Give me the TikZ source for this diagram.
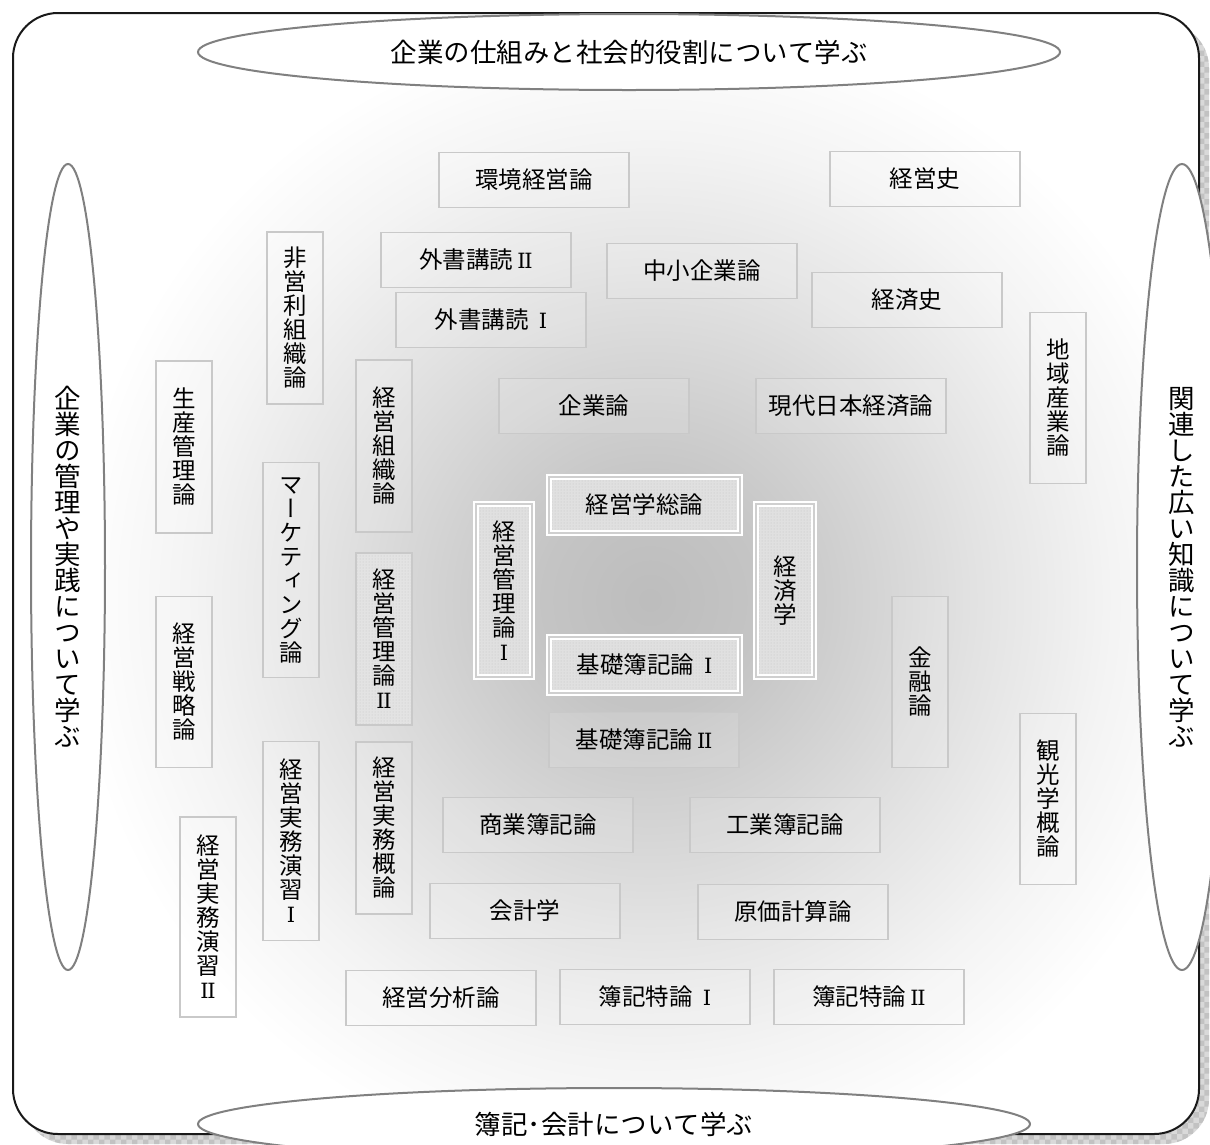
\documentclass[tikz,border=0pt]{standalone}
\usepackage{fontspec}
\setmainfont{Noto Sans CJK JP}
\newfontfamily\vfont[RawFeature=+vert]{Noto Sans CJK JP}
\newfontfamily\rnfont{DejaVu Serif}
\newcommand\rnI{{\rnfont\fontsize{21}{24}\selectfont I}}
\newcommand\rnII{{\rnfont\fontsize{21}{24}\selectfont I\kern-1.5pt I}}
\usetikzlibrary{shapes.geometric,patterns}
\pgfdeclareradialshading{bgshade}{\pgfpoint{0bp}{0bp}}{color(0bp)=(gray!52); color(4.2bp)=(gray!46); color(8.5bp)=(gray!34); color(12.7bp)=(gray!22); color(17.7bp)=(gray!9); color(22.3bp)=(white); color(50bp)=(white)}
\begin{document}
\begin{tikzpicture}[x=1pt,y=-1pt,
  hbox/.style={draw=gray!42, line width=1.5pt, fill=white, fill opacity=0.12, text opacity=1,
    minimum width=190pt, minimum height=55pt, inner sep=0pt, font=\fontsize{23.5}{24}\selectfont},
  vbox/.style={draw=gray!42, line width=1.5pt, fill=white, fill opacity=0.12, text opacity=1,
    minimum width=56pt, minimum height=#1, inner sep=0pt, align=center,
    font=\vfont\fontsize{23.5}{24}\selectfont},
  dotbox/.style={vbox=#1, fill opacity=1, preaction={fill=gray!22}, pattern=dots, pattern color=gray!45},
  cbox/.style={draw=white, line width=1.8pt, double=gray!38, double distance=2pt,
    preaction={fill=gray!24}, pattern=dots, pattern color=gray!48, inner sep=0pt,
    align=center, font=\vfont\fontsize{23.5}{24}\selectfont},
  ell/.style={ellipse, draw=gray, line width=2pt, fill=white, inner sep=0pt, align=center,
    font=\vfont\fontsize{26.5}{26}\selectfont}
]
\useasboundingbox (0,0) rectangle (1210,1144);
% shadow
\fill[rounded corners=45pt, preaction={fill=gray!30}, pattern=checkerboard, pattern color=gray!48]
  (23,23) rectangle (1209,1144);
% frame
\fill[white, rounded corners=45pt] (13,13) rectangle (1199,1134);
\begin{scope}
  \clip[rounded corners=45pt] (13,13) rectangle (1199,1134);
  \shade[shading=bgshade] (0,-50) rectangle (1300,1250);
\end{scope}
\draw[line width=2pt, gray!20!black, rounded corners=45pt] (13,13) rectangle (1199,1134);

% ellipses
\node[ell, minimum width=862pt, minimum height=76pt] (top) at (629,52) {企業の仕組みと社会的役割について学ぶ};
\node[ell, minimum width=832pt, minimum height=72pt] (bot) at (614,1124) {\raisebox{-4pt}{簿記･会計について学ぶ}};
\node[ell, minimum width=74pt, minimum height=806pt] (lft) at (68,567) {企\\業\\の\\管\\理\\や\\実\\践\\に\\つ\\い\\て\\学\\ぶ};
\node[ell, minimum width=90pt, minimum height=806pt] (rgt) at (1182,567) {関\\連\\し\\た\\広\\い\\知\\識\\に\\つ\\い\\て\\学\\ぶ};

% horizontal boxes
\node[hbox] (kankyo) at (534,180) {環境経営論};
\node[hbox] (keieishi) at (925,179) {経営史};
\node[hbox] (gaisho2) at (476,260) {外書講読\hspace{4pt}\rnII};
\node[hbox] (gaisho1) at (491,320) {外書講読\hspace{10pt}\rnI};
\node[hbox] (chusho) at (702,271) {中小企業論};
\node[hbox] (keizaishi) at (907,300) {経済史};
\node[hbox] (kigyo) at (594,406) {企業論};
\node[hbox] (gendai) at (851,406) {現代日本経済論};
\node[hbox] (boki2) at (644,740) {基礎簿記論\hspace{4pt}\rnII};
\node[hbox] (shogyo) at (538,825) {商業簿記論};
\node[hbox] (kogyo) at (785,825) {工業簿記論};
\node[hbox] (kaikei) at (525,911) {会計学};
\node[hbox] (genka) at (793,912) {原価計算論};
\node[hbox] (bunseki) at (441,998) {経営分析論};
\node[hbox] (tokuron1) at (655,997) {簿記特論\hspace{10pt}\rnI};
\node[hbox] (tokuron2) at (869,997) {簿記特論\hspace{4pt}\rnII};

% vertical boxes
\node[vbox=172pt] (hieiri) at (295,318) {非\\営\\利\\組\\織\\論};
\node[vbox=172pt] (seisan) at (184,447) {生\\産\\管\\理\\論};
\node[vbox=172pt] (soshiki) at (384,446) {経\\営\\組\\織\\論};
\node[vbox=215pt] (marketing) at (291,570) {マ\\ー\\ケ\\テ\\ィ\\ン\\グ\\論};
\node[dotbox=172pt] (kanri2) at (384,639) {経\\営\\管\\理\\論\\\rnII};
\node[vbox=171pt] (senryaku) at (184,682) {経\\営\\戦\\略\\論};
\node[vbox=171pt] (kinyu) at (920,682) {金\\融\\論};
\node[vbox=171pt] (chiiki) at (1058,398) {地\\域\\産\\業\\論};
\node[vbox=171pt] (kanko) at (1048,799) {観\\光\\学\\概\\論};
\node[vbox=199pt] (enshu1) at (291,841) {経\\営\\実\\務\\演\\習\\\rnI};
\node[vbox=172pt] (jitsumu) at (384,828) {経\\営\\実\\務\\概\\論};
\node[vbox=200pt] (enshu2) at (208,917) {経\\営\\実\\務\\演\\習\\\rnII};

% central boxes
\node[cbox, minimum width=191pt, minimum height=56pt, font=\fontsize{23.5}{24}\selectfont] (soron) at (644.5,505) {経営学総論};
\node[cbox, minimum width=191pt, minimum height=56pt, font=\fontsize{23.5}{24}\selectfont] (boki1) at (644.5,665) {基礎簿記論\hspace{10pt}\rnI};
\node[cbox, minimum width=56pt, minimum height=173pt] (kanri1) at (504,590.5) {経\\営\\管\\理\\論\\\rnI};
\node[cbox, minimum width=58pt, minimum height=173pt] (keizai) at (785,590.5) {経\\済\\学};
\end{tikzpicture}
\end{document}
